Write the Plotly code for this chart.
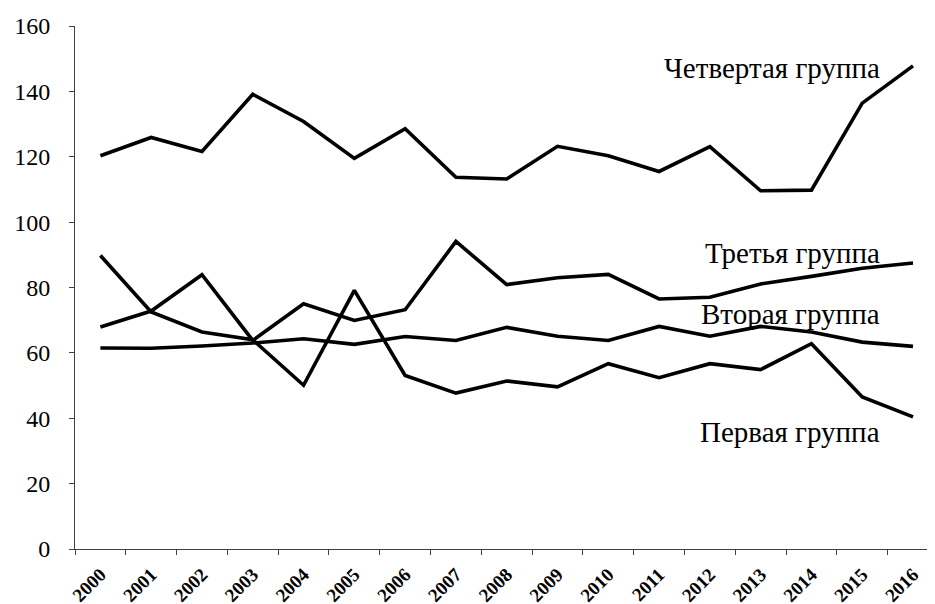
import plotly.graph_objects as go

years = [str(y) for y in range(2000, 2017)]

group1 = [89.8, 72.5, 66.4, 64.0, 50.1, 79.1, 53.1, 47.7, 51.4, 49.6, 56.7, 52.4, 56.7, 54.9, 62.8, 46.5, 40.4]
group2 = [61.5, 61.4, 62.1, 63.0, 64.3, 62.6, 65.0, 63.8, 67.8, 65.1, 63.8, 68.1, 65.1, 68.1, 66.4, 63.3, 62.0]
group3 = [67.9, 72.8, 83.9, 63.8, 75.0, 69.9, 73.2, 94.1, 80.9, 83.0, 84.0, 76.5, 77.0, 81.1, 83.4, 85.9, 87.5]
group4 = [120.3, 125.9, 121.6, 139.1, 130.8, 119.5, 128.6, 113.7, 113.2, 123.2, 120.3, 115.5, 123.1, 109.6, 109.8, 136.4, 147.8]

series = [group1, group2, group3, group4]
labels = ["Первая группа", "Вторая группа", "Третья группа", "Четвертая группа"]
label_y = [35.8, 71.9, 90.5, 147.3]

yticks = [0, 20, 40, 60, 80, 100, 120, 140, 160]

SERIF = "Liberation Serif"

fig = go.Figure()
for s, name in zip(series, labels):
    fig.add_trace(go.Scatter(x=years, y=s, mode="lines", name=name,
                             line=dict(color="black", width=3.6)))

for name, ly in zip(labels, label_y):
    fig.add_annotation(text=name, x=0.93, xref="paper", y=ly, yref="y",
                       xanchor="right", yanchor="middle", showarrow=False,
                       font=dict(family=SERIF, size=29, color="black"))

fig.update_layout(
    width=935, height=604,
    margin=dict(l=67, r=0, t=18, b=63),
    paper_bgcolor="white", plot_bgcolor="white",
    showlegend=False,
    font=dict(family=SERIF, color="black"),
)
fig.update_xaxes(type="category", range=[-0.5, 16.59], showline=True,
                 linecolor="#404040", linewidth=1, ticks="outside",
                 tickson="boundaries", ticklen=5, tickcolor="#404040",
                 tickangle=-45, showgrid=False, zeroline=False,
                 ticklabelstandoff=6,
                 tickfont=dict(family=SERIF, size=19, weight="bold", color="black"))
fig.update_yaxes(range=[0, 160], tickvals=yticks, showline=True,
                 linecolor="#404040", linewidth=1, ticks="outside", ticklen=5,
                 tickcolor="#404040", showgrid=False, zeroline=False,
                 ticklabelstandoff=14,
                 tickfont=dict(family=SERIF, size=24, color="black"))

fig.write_html("out.html")
